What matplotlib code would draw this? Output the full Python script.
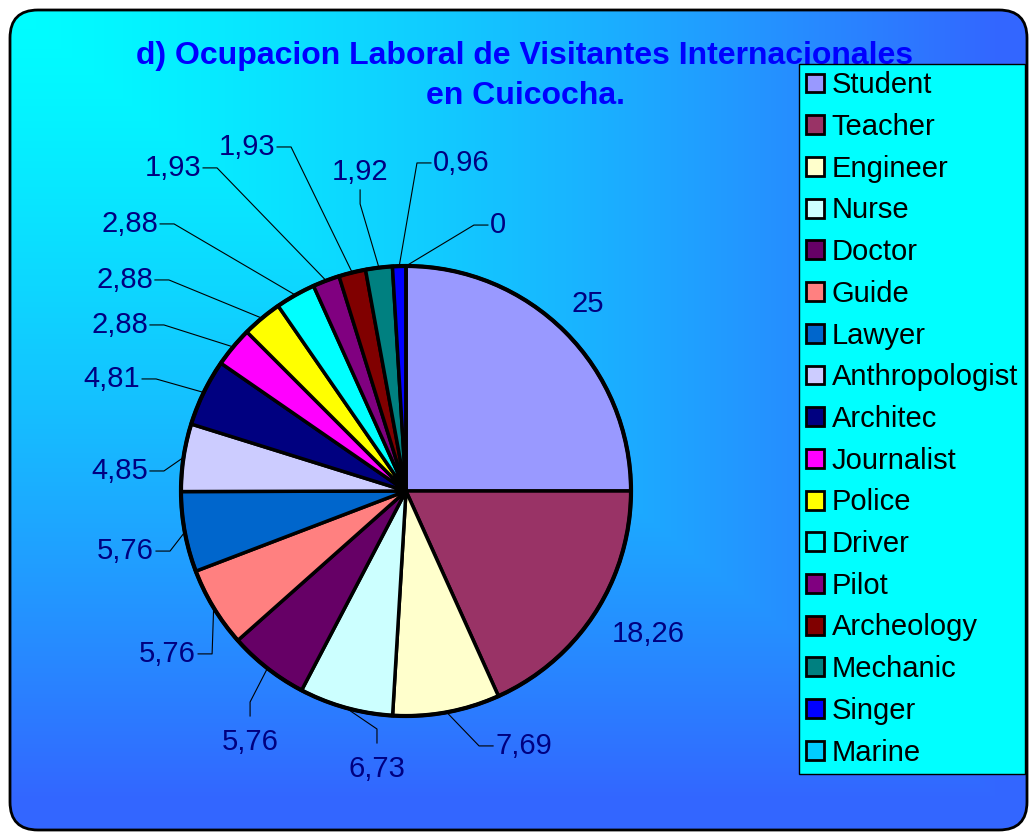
import numpy as np
import matplotlib
matplotlib.use('Agg')
import matplotlib.pyplot as plt
from matplotlib.patches import FancyBboxPatch, Circle

plt.rcParams['font.family'] = ['Liberation Sans', 'DejaVu Sans']

occupations = ['Student', 'Teacher', 'Engineer', 'Nurse', 'Doctor', 'Guide', 'Lawyer',
               'Anthropologist', 'Architec', 'Journalist', 'Police', 'Driver', 'Pilot',
               'Archeology', 'Mechanic', 'Singer', 'Marine']
percent = [25, 18.26, 7.69, 6.73, 5.76, 5.76, 5.76, 4.85, 4.81, 2.88, 2.88, 2.88,
           1.93, 1.93, 1.92, 0.96, 0]
colors = ['#9999FF', '#993366', '#FFFFCC', '#CCFFFF', '#660066', '#FF8080', '#0066CC',
          '#CCCCFF', '#000080', '#FF00FF', '#FFFF00', '#00FFFF', '#800080', '#800000',
          '#008080', '#0000FF', '#00CCFF']
label_text = ['25', '18,26', '7,69', '6,73', '5,76', '5,76', '5,76', '4,85', '4,81',
              '2,88', '2,88', '2,88', '1,93', '1,93', '1,92', '0,96', '0']

# where each label's leader line ends (in pie radii from the centre) and
# on which side of that end the text sits; None = no leader, text centred there
label_pos = [(0.809, 0.831), (1.076, -0.636), (0.387, -1.133), (-0.129, -1.12),
             (-0.693, -1.0), (-0.924, -0.724), (-1.111, -0.267), (-1.138, 0.089),
             (-1.173, 0.498), (-1.138, 0.738), (-1.116, 0.938), (-1.093, 1.187),
             (-0.902, 1.436), (-0.573, 1.529), (-0.204, 1.338), (0.111, 1.458),
             (0.364, 1.182)]
label_side = [None, None, 'r', 'd', 'd', 'l', 'l', 'l', 'l', 'l', 'l', 'l', 'l', 'l',
              'u', 'r', 'r']

W, H = 1033, 836
cx, cy, R = 406, 491, 225  # pie centre / radius in pixels

fig = plt.figure(figsize=(W / 100, H / 100), dpi=100)

# background: rounded panel with corner gradient cyan -> blue
bg = fig.add_axes([0, 0, 1, 1], zorder=0)
bg.axis('off')
yy, xx = np.mgrid[0:H, 0:W]
t = np.clip(np.maximum(xx / 1000.0, yy / 800.0), 0, 1) ** 1.3
c0 = np.array([0, 255, 255]) / 255.0
c1 = np.array([51, 102, 255]) / 255.0
img = c0 + (c1 - c0) * t[..., None]
panel = FancyBboxPatch((10, 10), 1017, 820, boxstyle='round,pad=0,rounding_size=28',
                       fc='none', ec='black', lw=2, zorder=3)
bg.add_patch(panel)
im = bg.imshow(img, extent=(0, W, H, 0), zorder=1)
im.set_clip_path(panel)
bg.set_xlim(0, W)
bg.set_ylim(H, 0)

bg.text(525, 76, 'd) Ocupacion Laboral de Visitantes Internacionales\nen Cuicocha.',
        ha='center', va='center', fontsize=23, fontweight='bold', color='#0000FF',
        linespacing=1.4, zorder=4)

# pie
ax = fig.add_axes([0, 0, 1, 1], zorder=1)
ax.patch.set_visible(False)
wedges, _ = ax.pie(percent, colors=colors, startangle=90, counterclock=False, radius=1,
                   wedgeprops=dict(edgecolor='black', linewidth=2.5))
ax.add_patch(Circle((0, 0), 1, fc='none', ec='black', lw=3, zorder=5))
ax.set_xlim(-cx / R, (W - cx) / R)
ax.set_ylim(-(H - cy) / R, cy / R)
ax.set_aspect('equal')
ax.axis('off')

seg = 14.0 / R
gap = 2.0 / R
for w, txt, pos, side in zip(wedges, label_text, label_pos, label_side):
    kw = dict(fontsize=21, color='#000080')
    if side is None:
        ax.text(pos[0], pos[1], txt, ha='center', va='center', **kw)
        continue
    ang = np.deg2rad((w.theta1 + w.theta2) / 2)
    ex, ey = pos
    sx, sy = {'l': (seg, 0), 'r': (-seg, 0), 'd': (0, seg), 'u': (0, -seg)}[side]
    ax.plot([np.cos(ang), ex + sx, ex], [np.sin(ang), ey + sy, ey], color='black', lw=0.8)
    if side == 'l':
        ax.text(ex - gap, ey, txt, ha='right', va='center', **kw)
    elif side == 'r':
        ax.text(ex + gap, ey, txt, ha='left', va='center', **kw)
    elif side == 'd':
        ax.text(ex, ey - 6 * gap, txt, ha='center', va='top', **kw)
    else:
        ax.text(ex, ey + 2 * gap, txt, ha='center', va='bottom', **kw)

leg = ax.legend(wedges, occupations, loc='upper left', bbox_to_anchor=(799 / W, 1 - 64 / H),
                bbox_transform=fig.transFigure, fontsize=21, frameon=True, fancybox=False,
                edgecolor='black', facecolor='#00FFFF', framealpha=1, borderpad=0.25,
                labelspacing=0.47, handlelength=0.62, handleheight=0.62,
                handletextpad=0.25, borderaxespad=0)
leg.get_frame().set_linewidth(1)
for h in leg.legend_handles:
    h.set_linewidth(2)

fig.savefig('out.png', dpi=100)
